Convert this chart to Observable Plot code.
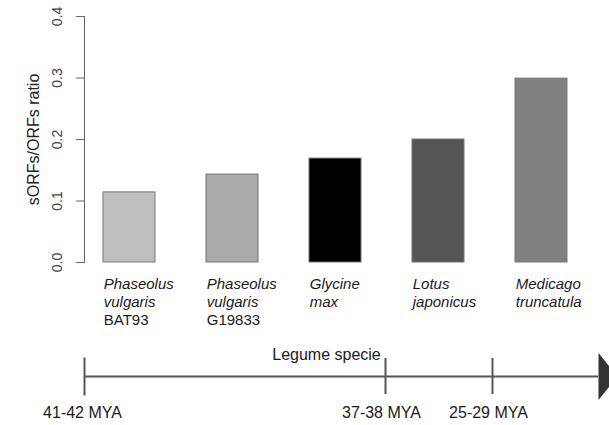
<!DOCTYPE html>
<html>
<head>
<meta charset="utf-8">
<script src="https://cdn.jsdelivr.net/npm/d3@7"></script>
<script src="https://cdn.jsdelivr.net/npm/@observablehq/plot@0.6"></script>
<style>
  html, body { margin: 0; padding: 0; background: #fff; }
  #chart svg { display: block; }
</style>
</head>
<body>
<div id="chart"></div>
<script>
const species = ["Phaseolus vulgaris BAT93", "Phaseolus vulgaris G19833", "Glycine max", "Lotus japonicus", "Medicago truncatula"];
const nameLines = ["Phaseolus\nvulgaris", "Phaseolus\nvulgaris", "Glycine\nmax", "Lotus\njaponicus", "Medicago\ntruncatula"];
const strains = ["BAT93", "G19833", "", "", ""];
const ratios = [0.114, 0.143, 0.169, 0.200, 0.299];
const barColors = ["#bebebe", "#aaaaaa", "#000000", "#555555", "#808080"];
const yTicks = [0, 0.1, 0.2, 0.3, 0.4];
const yLabel = "sORFs/ORFs ratio";
const xLabel = "Legume specie";
const firstEra = "41-42 MYA";
const laterEras = ["37-38 MYA", "25-29 MYA"];
const laterEraSpecies = ["Lotus japonicus", "Medicago truncatula"];

const data = species.map((s, i) => ({species: s, name: nameLines[i], strain: strains[i], ratio: ratios[i]}));
const eras = laterEras.map((e, i) => ({label: e, species: laterEraSpecies[i]}));

const font = "'Liberation Sans', Arial, Helvetica, sans-serif";
const xScale = {domain: species, range: [84, 585.5], paddingInner: 0.5, paddingOuter: 0.184, axis: null};
const half = 25.75;
const eraShift = [-50, -43]; // pixel offsets of era marks from band centres

const barChart = Plot.plot({
  width: 609, height: 340,
  marginTop: 16, marginBottom: 78, marginLeft: 84, marginRight: 23.5,
  style: {fontFamily: font, background: "#fff", color: "#333"},
  x: xScale,
  y: {domain: [0, 0.4], axis: null},
  color: {domain: species, range: barColors},
  marks: [
    Plot.barY(data, {x: "species", y: "ratio", fill: "species", stroke: "#777", strokeWidth: 1, inset: 0}),
    Plot.axisY({ticks: yTicks, tickFormat: () => "", tickSize: 8, stroke: "#666", label: null}),
    Plot.text(yTicks, {y: d => d, text: d => d3.format(".1f")(d), frameAnchor: "left", rotate: -90,
      textAnchor: "middle", lineAnchor: "middle", dx: -27, fontSize: 14, fill: "#444"}),
    Plot.frame({anchor: "left", stroke: "#666"}),
    Plot.text([yLabel], {text: d => d, frameAnchor: "left", rotate: -90, textAnchor: "middle", lineAnchor: "middle",
      dx: -51, fontSize: 16, fill: "#222"}),
    Plot.text(data, {x: "species", text: "name", frameAnchor: "bottom", lineAnchor: "top", textAnchor: "start",
      dx: -half, dy: 14, fontSize: 15, lineHeight: 1.2, fontStyle: "italic", fill: "#1a1a1a"}),
    Plot.text(data, {x: "species", text: "strain", frameAnchor: "bottom", lineAnchor: "top", textAnchor: "start",
      dx: -half, dy: 52, fontSize: 15, fill: "#1a1a1a"})
  ]
});

const arrowHead = {
  draw(ctx) {
    ctx.moveTo(0, -23.5);
    ctx.lineTo(19, 0);
    ctx.lineTo(0, 23.5);
    ctx.closePath();
  }
};

const timeline = Plot.plot({
  width: 609, height: 85,
  marginTop: 18, marginBottom: 31, marginLeft: 84, marginRight: 11,
  style: {fontFamily: font, background: "#fff", color: "#333", overflow: "hidden"},
  x: xScale,
  y: {domain: [-1, 1], axis: null},
  marks: [
    Plot.ruleY([0], {stroke: "#555", strokeWidth: 2}),
    Plot.frame({anchor: "left", stroke: "#555", strokeWidth: 2}),
    ...eras.map((e, i) => Plot.ruleX([e], {x: "species", stroke: "#555", strokeWidth: 2, dx: eraShift[i]})),
    Plot.dot([0], {y: 0, frameAnchor: "right", symbol: arrowHead, r: 5, fill: "#333", stroke: "none"}),
    Plot.text([xLabel], {text: d => d, frameAnchor: "top", lineAnchor: "bottom", dx: -15, dy: 1.6, fontSize: 16, fill: "#1a1a1a"}),
    Plot.text([firstEra], {text: d => d, frameAnchor: "bottom-left", lineAnchor: "top", textAnchor: "middle", dx: -2, dy: 12.6, fontSize: 16, fill: "#1a1a1a"}),
    ...eras.map((e, i) => Plot.text([e], {x: "species", text: "label", frameAnchor: "bottom", lineAnchor: "top",
      dx: eraShift[i] - 4, dy: 12.6, fontSize: 16, fill: "#1a1a1a"}))
  ]
});

const el = document.getElementById("chart");
el.appendChild(barChart);
el.appendChild(timeline);
</script>
</body>
</html>
